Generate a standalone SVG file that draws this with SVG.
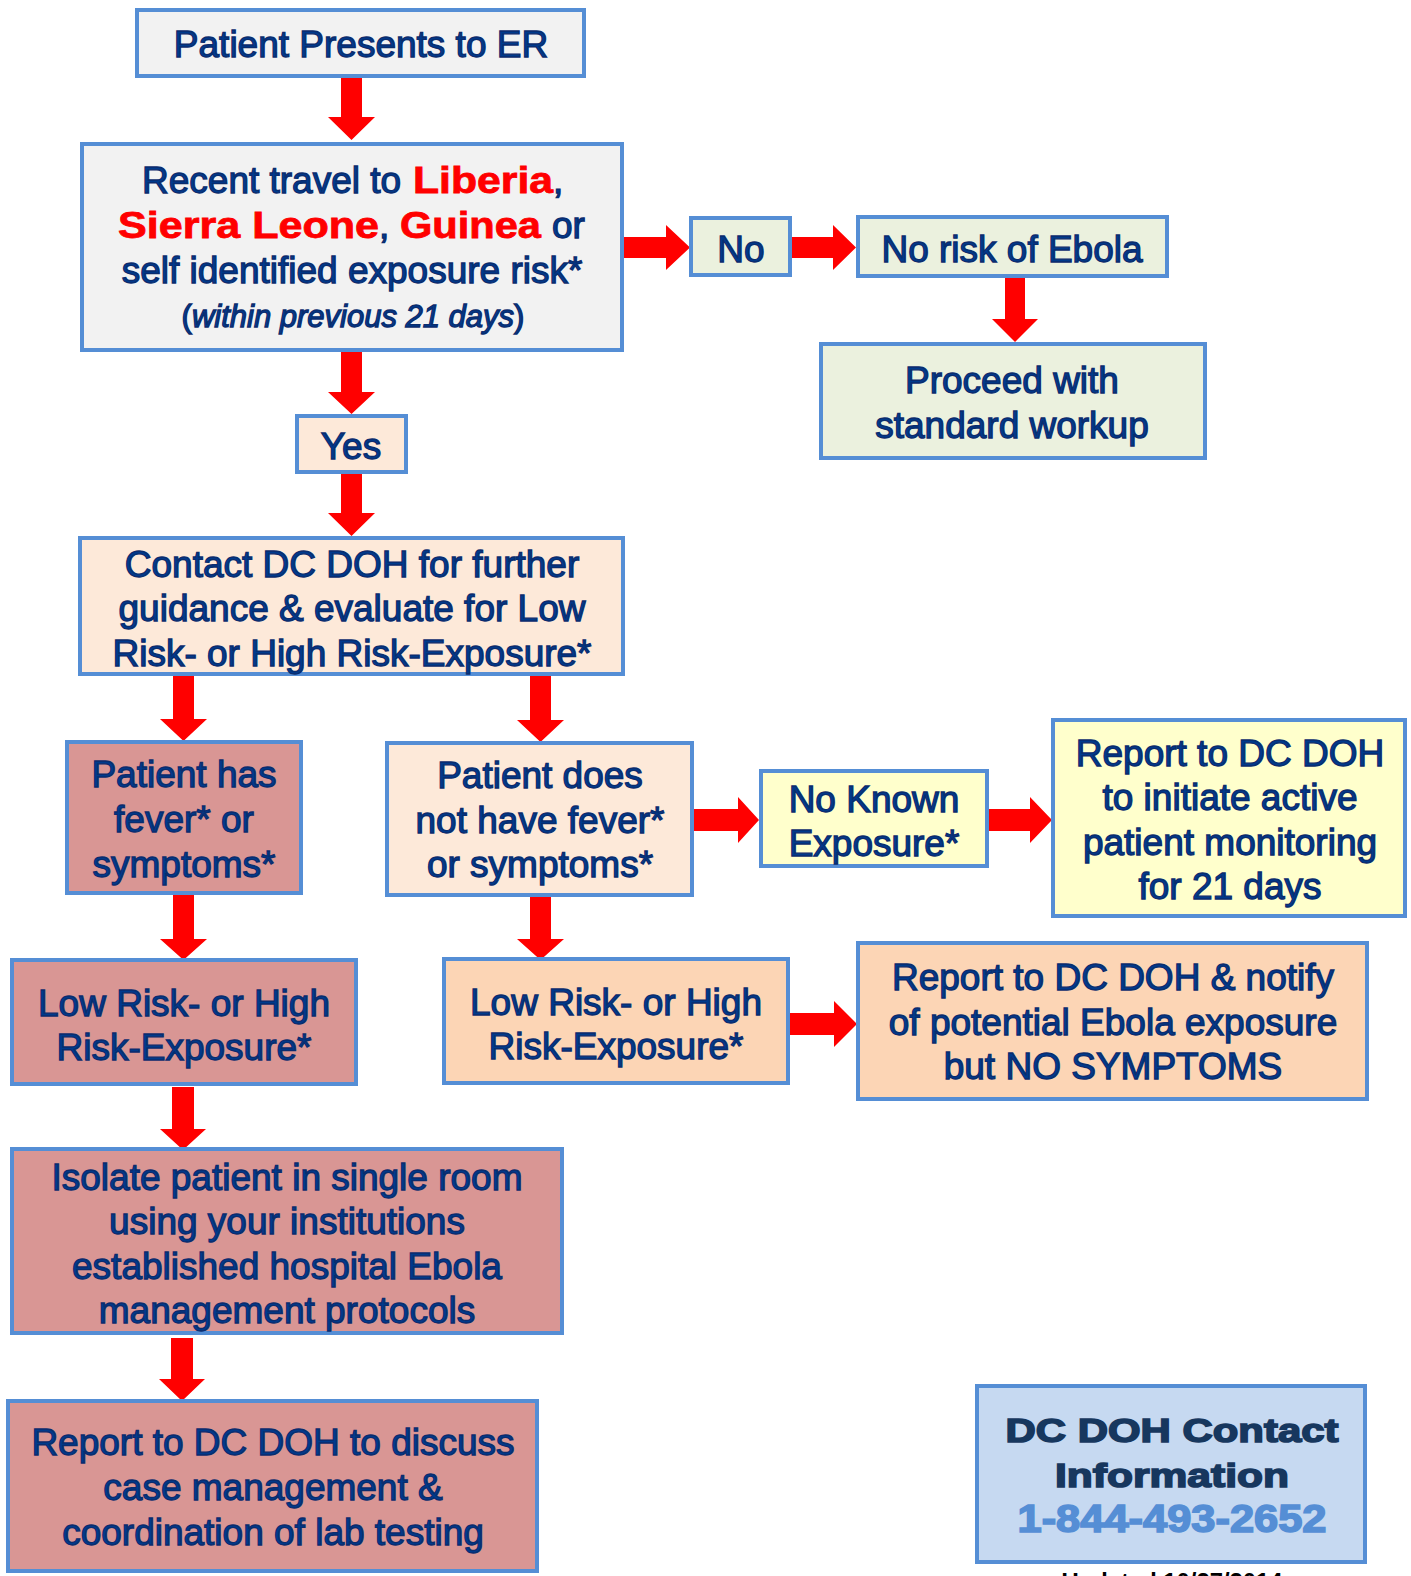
<svg xmlns="http://www.w3.org/2000/svg" width="1411" height="1576" viewBox="0 0 1411 1576">
<style>
.box{stroke:#558ed5;stroke-width:4}
.g{fill:#f2f2f2}.gr{fill:#ebf1de}.pk{fill:#fde9d9}.rs{fill:#d99694}.or{fill:#fcd5b5}.yl{fill:#ffffcc}.bl{fill:#c6d9f1}
.t{font-family:"Liberation Sans",Arial,sans-serif;font-size:37px;fill:#003a8c;stroke:#0b2c6e;stroke-width:1.3;text-anchor:middle}
.ts{text-anchor:start}
.red{font-weight:bold;fill:#ff0000;stroke:#ff0000;stroke-width:0.8}
.it{font-style:italic}
.arr{fill:#ff0000}
.ci{font-family:"Liberation Sans",Arial,sans-serif;font-weight:bold;font-size:34px;fill:#17375e;stroke:#17375e;stroke-width:1.6;text-anchor:middle}
.ph{fill:#558ed5;stroke:#558ed5;font-size:38px}
.up{font-family:"Liberation Sans",Arial,sans-serif;font-weight:bold;font-size:24px;fill:#000;text-anchor:middle}
</style>

<g id="connectors">
  <path class="arr" d="M341,77 H362 V117 H375 L351.5,140 L328,117 H341 Z"/>
  <path class="arr" d="M341,351 H362 V392 H375 L351.5,414 L328,392 H341 Z"/>
  <path class="arr" d="M341,473 H362 V513 H375 L351.5,536 L328,513 H341 Z"/>
  <path class="arr" d="M1005,278 H1025 V319 H1038 L1015,342 L992,319 H1005 Z"/>
  <path class="arr" d="M173,676 H194 V719 H207 L183.5,741 L160,719 H173 Z"/>
  <path class="arr" d="M530,676 H551 V720 H564 L540.5,742 L517,720 H530 Z"/>
  <path class="arr" d="M173,894 H194 V939 H207 L183.5,960 L160,939 H173 Z"/>
  <path class="arr" d="M530,896 H551 V939 H564 L540.5,960 L517,939 H530 Z"/>
  <path class="arr" d="M172,1087 H194 V1129 H206 L183,1150 L160,1129 H172 Z"/>
  <path class="arr" d="M171,1338 H193 V1379 H205 L182,1401 L159,1379 H171 Z"/>
  <path class="arr" d="M622,237 V258 H666 V270 L690,247.5 L666,225 V237 Z"/>
  <path class="arr" d="M791,237 V258 H833 V270 L856,247.5 L833,225 V237 Z"/>
  <path class="arr" d="M694,809 V831 H738 V843 L759,820 L738,797 V809 Z"/>
  <path class="arr" d="M988,809 V831 H1030 V843 L1052,820 L1030,797 V809 Z"/>
  <path class="arr" d="M790,1013 V1035 H834 V1047 L857,1024 L834,1001 V1013 Z"/>
</g>

<g id="n-er">
  <rect class="box g" x="137" y="10" width="447" height="66"/>
  <text class="t" x="361" y="57">Patient Presents to ER</text>
</g>

<g id="n-travel">
  <rect class="box g" x="82" y="144" width="540" height="206"/>
  <text class="t ts" x="142" y="193">Recent travel to</text>
  <text class="t ts red" x="413" y="193" textLength="140" lengthAdjust="spacingAndGlyphs">Liberia</text>
  <text class="t ts" x="553" y="193">,</text>
  <text class="t ts red" x="118" y="238" textLength="261" lengthAdjust="spacingAndGlyphs">Sierra Leone</text>
  <text class="t ts" x="379" y="238">,</text>
  <text class="t ts red" x="400" y="238" textLength="141" lengthAdjust="spacingAndGlyphs">Guinea</text>
  <text class="t ts" x="552" y="238">or</text>
  <text class="t" x="352" y="283">self identified exposure risk*</text>
  <text class="t" x="353" y="327" style="font-size:31px">(<tspan class="it">within previous 21 days</tspan>)</text>
</g>

<g id="n-no">
  <rect class="box gr" x="691" y="218" width="99" height="57"/>
  <text class="t" x="741" y="262">No</text>
</g>

<g id="n-norisk">
  <rect class="box gr" x="858" y="217" width="309" height="59"/>
  <text class="t" x="1012" y="262">No risk of Ebola</text>
</g>

<g id="n-proceed">
  <rect class="box gr" x="821" y="344" width="384" height="114"/>
  <text class="t" x="1012" y="393">Proceed with</text>
  <text class="t" x="1012" y="438">standard workup</text>
</g>

<g id="n-yes">
  <rect class="box pk" x="297" y="416" width="109" height="56"/>
  <text class="t" x="351" y="459">Yes</text>
</g>

<g id="n-contact">
  <rect class="box pk" x="80" y="538" width="543" height="136"/>
  <text class="t" x="352" y="577">Contact DC DOH for further</text>
  <text class="t" x="352" y="621">guidance &amp; evaluate for Low</text>
  <text class="t" x="352" y="666">Risk- or High Risk-Exposure*</text>
</g>

<g id="n-fever">
  <rect class="box rs" x="67" y="742" width="234" height="151"/>
  <text class="t" x="184" y="787">Patient has</text>
  <text class="t" x="184" y="832">fever* or</text>
  <text class="t" x="184" y="877">symptoms*</text>
</g>

<g id="n-nofever">
  <rect class="box pk" x="387" y="743" width="305" height="152"/>
  <text class="t" x="540" y="788">Patient does</text>
  <text class="t" x="540" y="833">not have fever*</text>
  <text class="t" x="540" y="877">or symptoms*</text>
</g>

<g id="n-noknown">
  <rect class="box yl" x="761" y="771" width="226" height="95"/>
  <text class="t" x="874" y="812">No Known</text>
  <text class="t" x="874" y="856">Exposure*</text>
</g>

<g id="n-monitor">
  <rect class="box yl" x="1053" y="720" width="352" height="196"/>
  <text class="t" x="1230" y="766">Report to DC DOH</text>
  <text class="t" x="1230" y="810">to initiate active</text>
  <text class="t" x="1230" y="855">patient monitoring</text>
  <text class="t" x="1230" y="899">for 21 days</text>
</g>

<g id="n-lowhigh-left">
  <rect class="box rs" x="12" y="960" width="344" height="124"/>
  <text class="t" x="184" y="1016">Low Risk- or High</text>
  <text class="t" x="184" y="1060">Risk-Exposure*</text>
</g>

<g id="n-lowhigh-right">
  <rect class="box or" x="444" y="959" width="344" height="124"/>
  <text class="t" x="616" y="1015">Low Risk- or High</text>
  <text class="t" x="616" y="1059">Risk-Exposure*</text>
</g>

<g id="n-notify">
  <rect class="box or" x="858" y="943" width="509" height="156"/>
  <text class="t" x="1113" y="990">Report to DC DOH &amp; notify</text>
  <text class="t" x="1113" y="1035">of potential Ebola exposure</text>
  <text class="t" x="1113" y="1079">but NO SYMPTOMS</text>
</g>

<g id="n-isolate">
  <rect class="box rs" x="12" y="1149" width="550" height="184"/>
  <text class="t" x="287" y="1190">Isolate patient in single room</text>
  <text class="t" x="287" y="1234">using your institutions</text>
  <text class="t" x="287" y="1279">established hospital Ebola</text>
  <text class="t" x="287" y="1323">management protocols</text>
</g>

<g id="n-report">
  <rect class="box rs" x="8" y="1401" width="529" height="170"/>
  <text class="t" x="273" y="1455">Report to DC DOH to discuss</text>
  <text class="t" x="273" y="1500">case management &amp;</text>
  <text class="t" x="273" y="1545">coordination of lab testing</text>
</g>

<g id="n-contactinfo">
  <rect class="box bl" x="977" y="1386" width="388" height="176"/>
  <text class="ci" x="1172" y="1442" textLength="333" lengthAdjust="spacingAndGlyphs">DC DOH Contact</text>
  <text class="ci" x="1172" y="1487" textLength="234" lengthAdjust="spacingAndGlyphs">Information</text>
  <text class="ci ph" x="1172" y="1532" textLength="309" lengthAdjust="spacingAndGlyphs">1-844-493-2652</text>
</g>

<text class="up" x="1172" y="1590" textLength="221" lengthAdjust="spacingAndGlyphs">Updated 10/27/2014</text>
</svg>
